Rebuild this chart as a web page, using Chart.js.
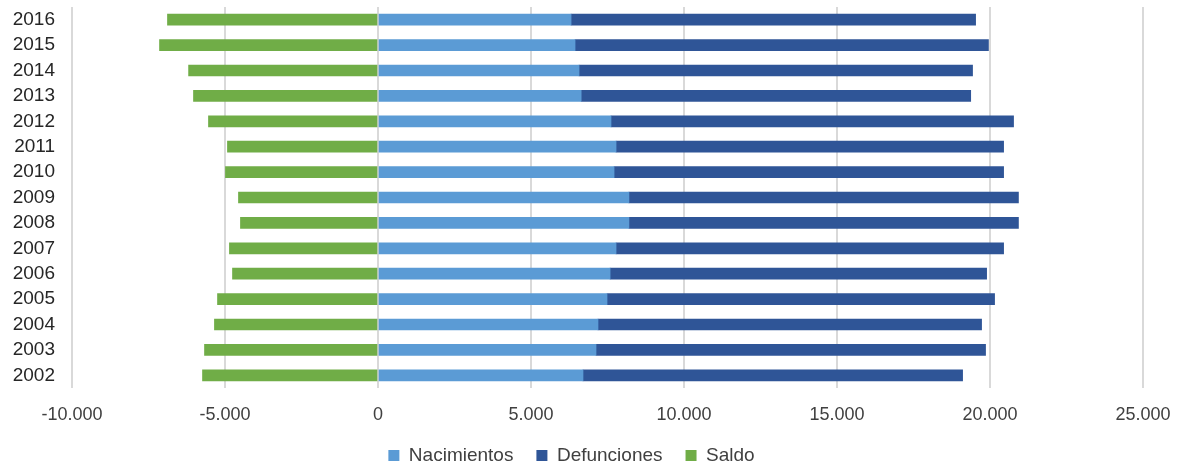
<!DOCTYPE html>
<html>
<head>
<meta charset="utf-8">
<script src="https://cdn.jsdelivr.net/npm/chart.js@4/dist/chart.umd.min.js"></script>
<style>
    html, body { margin: 0; padding: 0; background: #fff; }
    #wrap { width: 1184px; height: 465px; }
</style>
</head>
<body>
<div id="wrap"><canvas id="bar-chart"></canvas></div>
<script>
// years top to bottom as in the picture
let years = ["2016", "2015", "2014", "2013", "2012", "2011", "2010", "2009", "2008", "2007", "2006", "2005", "2004", "2003", "2002"];
let nacimientos = [6310, 6440, 6570, 6640, 7615, 7780, 7715, 8200, 8200, 7780, 7585, 7485, 7190, 7125, 6700];
let defunciones = [13220, 13510, 12860, 12730, 13155, 12665, 12730, 12730, 12730, 12665, 12305, 12665, 12535, 12730, 12405];
let saldo = [-6880, -7140, -6190, -6030, -5540, -4920, -4985, -4560, -4495, -4855, -4755, -5245, -5345, -5670, -5735];
let xTicks = [-10000, -5000, 0, 5000, 10000, 15000, 20000, 25000];

function formatThousands(v) {
    let s = Math.abs(v).toString().replace(/\B(?=(\d{3})+(?!\d))/g, ".");
    return (v < 0 ? "-" : "") + s;
}

Chart.defaults.font.family = "'Liberation Sans', Arial, sans-serif";
Chart.defaults.color = "#404040";

new Chart(document.getElementById("bar-chart"), {
    type: 'bar',
    data: {
        labels: years,
        datasets: [
            { label: "Nacimientos", backgroundColor: "#5B9BD5", data: nacimientos, stack: "s" },
            { label: "Defunciones", backgroundColor: "#2F5597", data: defunciones, stack: "s" },
            { label: "Saldo", backgroundColor: "#70AD47", data: saldo, stack: "s" }
        ]
    },
    options: {
        indexAxis: 'y',
        responsive: true,
        maintainAspectRatio: false,
        animation: false,
        datasets: { bar: { barThickness: 11 } },
        layout: { padding: { left: 0, right: 41, top: 7, bottom: -10 } },
        scales: {
            x: {
                min: -10000,
                max: 25000,
                afterBuildTicks: function (scale) {
                    scale.ticks = xTicks.map(v => ({ value: v }));
                },
                afterFit: function (scale) {
                    scale.paddingLeft = 0;
                    scale.paddingRight = 0;
                    scale.height = 35;
                },
                grid: { color: "#d9d9d9", lineWidth: 2, drawTicks: false },
                border: { display: false },
                ticks: {
                    font: { size: 18 },
                    padding: 16,
                    maxRotation: 0,
                    callback: function (v) { return formatThousands(v); }
                }
            },
            y: {
                stacked: true,
                grid: { display: false },
                border: { display: false },
                afterFit: function (scale) {
                    scale.width = 72;
                    scale.paddingTop = 0;
                    scale.paddingBottom = 0;
                },
                ticks: { font: { size: 19 }, color: "#262626", padding: 9, autoSkip: false }
            }
        },
        plugins: {
            tooltip: { enabled: false },
            legend: {
                position: 'bottom',
                labels: { boxWidth: 11, boxHeight: 11, font: { size: 19 }, padding: 23, color: "#404040" }
            }
        }
    }
});
</script>
</body>
</html>
